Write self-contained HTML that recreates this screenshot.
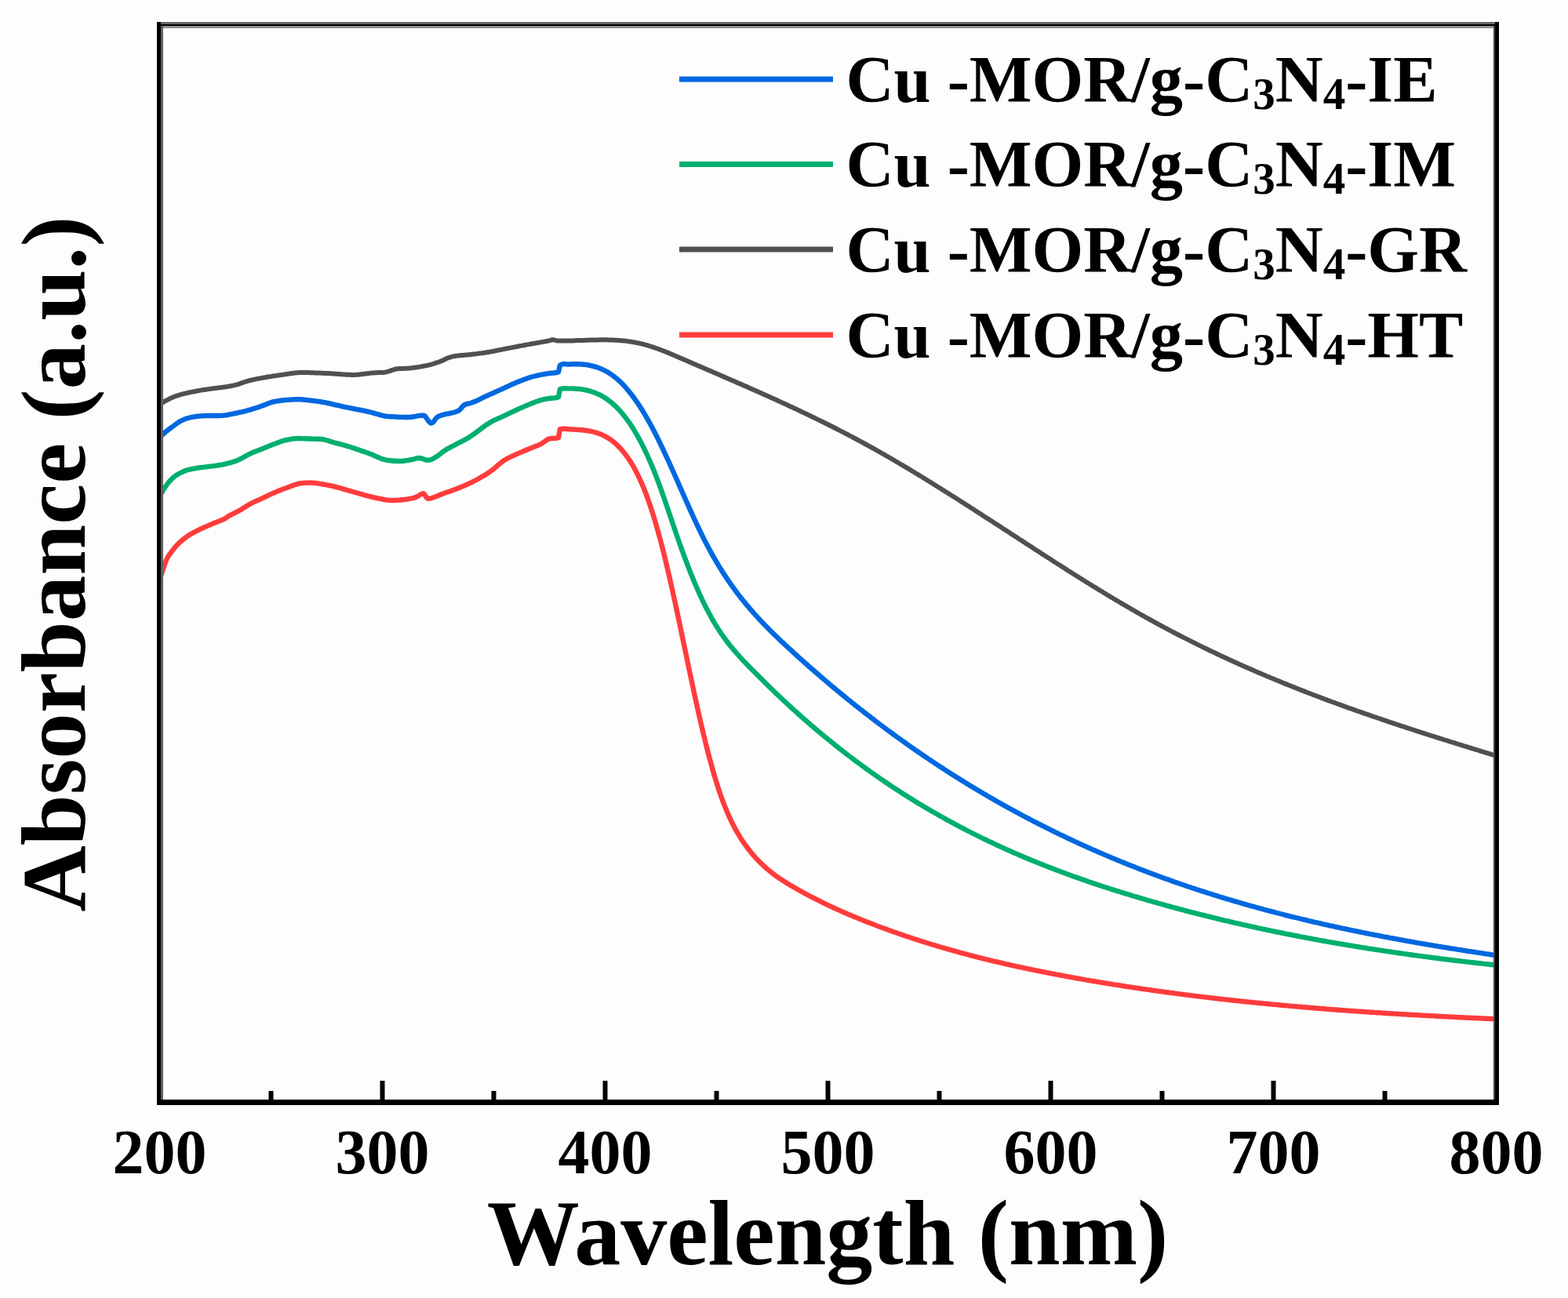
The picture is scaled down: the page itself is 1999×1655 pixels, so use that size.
<!DOCTYPE html>
<html><head><meta charset="utf-8"><title>Absorbance vs Wavelength</title>
<style>
html,body{margin:0;padding:0;background:#fdfdfd;}
body{width:1999px;height:1655px;overflow:hidden;}
svg{display:block;}
text{font-family:"Liberation Serif","Times New Roman",serif;font-weight:bold;fill:#000;}
.tl{font-size:80px;}
.ax{font-size:118px;}
.lg{font-size:84.5px;}
.sub{font-size:57px;}
</style></head><body>
<svg width="1999" height="1655" viewBox="0 0 1999 1655">
<rect x="0" y="0" width="1999" height="1655" fill="#fdfdfd"/>
<g fill="none" stroke-linejoin="round" stroke-linecap="butt" stroke-width="6.4">
<path d="M204.0 515.3 L206.0 514.1 L208.0 512.9 L210.0 511.7 L212.0 510.6 L214.0 509.6 L216.0 508.5 L218.0 507.6 L220.0 506.7 L222.0 505.8 L224.0 505.1 L226.0 504.4 L228.0 503.8 L230.0 503.2 L232.0 502.6 L234.0 502.1 L236.0 501.6 L238.0 501.2 L240.0 500.7 L242.0 500.3 L244.0 499.9 L246.0 499.5 L248.0 499.1 L250.0 498.7 L252.0 498.3 L254.0 498.0 L254.4 497.9 L256.0 497.6 L258.0 497.3 L260.0 497.0 L262.0 496.7 L264.0 496.4 L266.0 496.1 L268.0 495.8 L270.0 495.6 L272.0 495.3 L274.0 495.1 L276.0 494.8 L278.0 494.6 L280.0 494.3 L282.0 494.0 L284.0 493.8 L286.0 493.5 L288.0 493.2 L290.0 492.9 L292.0 492.5 L294.0 492.2 L296.0 491.8 L297.9 491.4 L298.0 491.4 L300.0 490.9 L302.0 490.4 L304.0 489.8 L306.0 489.1 L308.0 488.4 L310.0 487.7 L312.0 487.0 L314.0 486.4 L316.0 485.8 L318.0 485.2 L319.6 484.8 L320.0 484.7 L322.0 484.3 L324.0 483.8 L326.0 483.4 L328.0 483.0 L330.0 482.6 L332.0 482.2 L334.0 481.9 L336.0 481.5 L338.0 481.2 L340.0 480.8 L342.0 480.5 L344.0 480.2 L346.0 479.9 L348.0 479.5 L350.0 479.2 L352.0 479.0 L354.0 478.7 L356.0 478.4 L356.6 478.3 L358.0 478.1 L360.0 477.8 L362.0 477.5 L364.0 477.2 L366.0 476.9 L368.0 476.6 L370.0 476.3 L372.0 476.0 L374.0 475.7 L376.0 475.5 L378.0 475.3 L380.0 475.2 L382.0 475.1 L384.0 475.0 L384.9 475.0 L386.0 475.0 L388.0 475.0 L390.0 475.0 L392.0 475.1 L394.0 475.1 L396.0 475.2 L398.0 475.2 L400.0 475.3 L402.0 475.4 L404.0 475.4 L406.0 475.5 L408.0 475.6 L410.0 475.7 L412.0 475.8 L414.0 475.9 L416.0 475.9 L417.5 476.0 L418.0 476.0 L420.0 476.1 L422.0 476.2 L424.0 476.4 L426.0 476.5 L428.0 476.7 L430.0 476.8 L432.0 477.0 L434.0 477.1 L436.0 477.3 L438.0 477.4 L440.0 477.5 L442.0 477.7 L444.0 477.8 L446.0 477.8 L448.0 477.9 L450.0 477.9 L450.2 477.9 L452.0 477.9 L454.0 477.8 L456.0 477.7 L458.0 477.5 L460.0 477.3 L462.0 477.1 L464.0 476.8 L466.0 476.6 L468.0 476.3 L470.0 476.1 L472.0 475.8 L474.0 475.6 L476.0 475.4 L478.0 475.3 L480.0 475.2 L482.0 475.1 L484.0 475.1 L486.0 475.1 L488.0 475.0 L488.1 475.0 L490.0 474.8 L492.0 474.4 L494.0 473.9 L496.0 473.3 L498.0 472.6 L500.0 471.9 L502.0 471.3 L504.0 470.7 L506.0 470.3 L507.3 470.2 L508.0 470.1 L510.0 470.0 L512.0 469.9 L514.0 469.9 L516.0 469.8 L518.0 469.7 L520.0 469.6 L522.0 469.4 L524.0 469.3 L526.0 469.0 L528.0 468.8 L530.0 468.5 L532.0 468.2 L534.0 467.9 L536.0 467.5 L538.0 467.2 L540.0 466.8 L542.0 466.4 L544.0 466.0 L546.0 465.6 L548.0 465.1 L550.0 464.6 L552.0 464.0 L554.0 463.4 L556.0 462.7 L558.0 462.0 L560.0 461.3 L562.0 460.6 L564.0 459.7 L566.0 458.7 L568.0 457.7 L570.0 456.8 L571.0 456.4 L572.0 456.1 L574.0 455.4 L576.0 454.9 L578.0 454.4 L580.0 454.0 L582.0 453.7 L584.0 453.5 L586.0 453.2 L588.0 453.0 L590.0 452.9 L592.0 452.7 L594.0 452.5 L596.0 452.4 L598.0 452.2 L600.0 452.0 L602.0 451.8 L604.0 451.6 L606.0 451.4 L608.0 451.1 L610.0 450.8 L612.0 450.5 L614.0 450.3 L616.0 450.0 L618.0 449.7 L620.0 449.3 L622.0 449.0 L624.0 448.7 L626.0 448.3 L628.0 448.0 L630.0 447.6 L632.0 447.2 L634.0 446.8 L636.0 446.4 L638.0 446.0 L640.0 445.6 L642.0 445.2 L644.0 444.8 L646.0 444.4 L648.0 444.0 L650.0 443.6 L652.0 443.3 L654.0 442.9 L656.0 442.5 L658.0 442.1 L660.0 441.7 L662.0 441.3 L664.0 440.9 L666.0 440.6 L668.0 440.2 L670.0 439.8 L672.0 439.4 L674.0 439.1 L676.0 438.7 L678.0 438.3 L679.4 438.1 L680.0 438.0 L682.0 437.7 L684.0 437.3 L686.0 437.0 L688.0 436.6 L690.0 436.3 L692.0 435.9 L694.0 435.6 L696.0 435.2 L698.0 434.8 L700.0 434.3 L702.0 433.7 L704.0 433.3 L705.0 433.2 L706.0 433.3 L708.0 433.9 L710.0 434.5 L711.0 434.6 L712.0 434.6 L714.0 434.6 L716.0 434.6 L718.0 434.6 L720.0 434.6 L722.0 434.6 L724.0 434.6 L726.0 434.5 L728.0 434.5 L730.0 434.4 L732.0 434.3 L734.0 434.2 L736.0 434.1 L738.0 434.1 L740.0 434.0 L742.0 433.9 L744.0 433.9 L746.0 433.8 L748.0 433.7 L750.0 433.7 L752.0 433.6 L754.0 433.5 L756.0 433.5 L758.0 433.4 L760.0 433.4 L762.0 433.4 L764.0 433.3 L766.0 433.3 L768.0 433.3 L770.0 433.3 L772.0 433.3 L774.0 433.3 L776.0 433.4 L778.0 433.4 L780.0 433.5 L782.0 433.6 L784.0 433.7 L786.0 433.8 L788.0 433.9 L790.0 434.1 L792.0 434.2 L794.0 434.4 L796.0 434.6 L798.0 434.8 L800.0 435.1 L802.0 435.4 L804.0 435.6 L806.0 436.0 L808.0 436.3 L810.0 436.7 L812.0 437.1 L814.0 437.5 L816.0 437.9 L818.0 438.4 L820.0 438.9 L822.0 439.4 L824.0 440.0 L826.0 440.5 L828.0 441.1 L830.0 441.8 L832.0 442.4 L834.0 443.1 L836.0 443.8 L838.0 444.5 L840.0 445.2 L842.0 446.0 L844.0 446.8 L846.0 447.5 L848.0 448.3 L850.0 449.1 L852.0 449.9 L854.0 450.8 L856.0 451.6 L858.0 452.5 L860.0 453.3 L862.0 454.2 L864.0 455.0 L866.0 455.9 L868.0 456.8 L870.0 457.6 L872.0 458.5 L874.0 459.3 L876.0 460.2 L878.0 461.1 L880.0 461.9 L882.0 462.8 L884.0 463.7 L886.0 464.5 L888.0 465.4 L890.0 466.3 L892.0 467.1 L894.0 468.0 L896.0 468.8 L898.0 469.7 L900.0 470.6 L902.0 471.4 L904.0 472.3 L906.0 473.1 L908.0 474.0 L910.0 474.9 L912.0 475.7 L914.0 476.6 L916.0 477.5 L918.0 478.3 L920.0 479.2 L922.0 480.1 L924.0 480.9 L926.0 481.8 L928.0 482.7 L930.0 483.5 L932.0 484.4 L934.0 485.3 L936.0 486.1 L938.0 487.0 L940.0 487.9 L942.0 488.8 L944.0 489.6 L946.0 490.5 L948.0 491.4 L950.0 492.3 L952.0 493.1 L954.0 494.0 L956.0 494.9 L958.0 495.8 L960.0 496.7 L962.0 497.6 L964.0 498.4 L966.0 499.3 L968.0 500.2 L970.0 501.1 L972.0 502.0 L974.0 502.9 L976.0 503.8 L978.0 504.7 L980.0 505.6 L982.0 506.5 L984.0 507.4 L986.0 508.3 L988.0 509.2 L990.0 510.1 L992.0 511.0 L994.0 511.9 L996.0 512.9 L998.0 513.8 L1000.0 514.7 L1002.0 515.6 L1004.0 516.5 L1006.0 517.5 L1008.0 518.4 L1010.0 519.3 L1012.0 520.3 L1014.0 521.2 L1016.0 522.1 L1018.0 523.1 L1020.0 524.0 L1022.0 525.0 L1024.0 525.9 L1026.0 526.9 L1028.0 527.8 L1030.0 528.8 L1032.0 529.7 L1034.0 530.7 L1036.0 531.7 L1038.0 532.6 L1040.0 533.6 L1042.0 534.6 L1044.0 535.6 L1046.0 536.5 L1048.0 537.5 L1050.0 538.5 L1052.0 539.5 L1054.0 540.5 L1056.0 541.5 L1058.0 542.5 L1060.0 543.5 L1062.0 544.5 L1064.0 545.5 L1066.0 546.5 L1068.0 547.6 L1070.0 548.6 L1072.0 549.6 L1074.0 550.6 L1076.0 551.7 L1078.0 552.7 L1080.0 553.8 L1082.0 554.8 L1084.0 555.9 L1086.0 556.9 L1088.0 558.0 L1090.0 559.0 L1092.0 560.1 L1094.0 561.2 L1096.0 562.2 L1098.0 563.3 L1100.0 564.4 L1102.0 565.5 L1104.0 566.6 L1106.0 567.7 L1108.0 568.8 L1110.0 569.9 L1112.0 571.0 L1114.0 572.1 L1116.0 573.2 L1118.0 574.4 L1120.0 575.5 L1122.0 576.6 L1124.0 577.8 L1126.0 578.9 L1128.0 580.0 L1130.0 581.2 L1132.0 582.3 L1134.0 583.5 L1136.0 584.7 L1138.0 585.8 L1140.0 587.0 L1142.0 588.2 L1144.0 589.3 L1146.0 590.5 L1148.0 591.7 L1150.0 592.9 L1152.0 594.0 L1154.0 595.2 L1156.0 596.4 L1158.0 597.6 L1160.0 598.8 L1162.0 600.0 L1164.0 601.2 L1166.0 602.4 L1168.0 603.7 L1170.0 604.9 L1172.0 606.1 L1174.0 607.3 L1176.0 608.5 L1178.0 609.8 L1180.0 611.0 L1182.0 612.2 L1184.0 613.5 L1186.0 614.7 L1188.0 615.9 L1190.0 617.2 L1192.0 618.4 L1194.0 619.7 L1196.0 620.9 L1198.0 622.2 L1200.0 623.4 L1202.0 624.7 L1204.0 625.9 L1206.0 627.2 L1208.0 628.4 L1210.0 629.7 L1212.0 631.0 L1214.0 632.2 L1216.0 633.5 L1218.0 634.8 L1220.0 636.0 L1222.0 637.3 L1224.0 638.6 L1226.0 639.9 L1228.0 641.1 L1230.0 642.4 L1232.0 643.7 L1234.0 645.0 L1236.0 646.3 L1238.0 647.6 L1240.0 648.8 L1242.0 650.1 L1244.0 651.4 L1246.0 652.7 L1248.0 654.0 L1250.0 655.3 L1252.0 656.6 L1254.0 657.9 L1256.0 659.2 L1258.0 660.5 L1260.0 661.8 L1262.0 663.1 L1264.0 664.3 L1266.0 665.6 L1268.0 666.9 L1270.0 668.2 L1272.0 669.5 L1274.0 670.8 L1276.0 672.1 L1278.0 673.4 L1280.0 674.7 L1282.0 676.0 L1284.0 677.3 L1286.0 678.6 L1288.0 679.9 L1290.0 681.2 L1292.0 682.5 L1294.0 683.8 L1296.0 685.1 L1298.0 686.4 L1300.0 687.7 L1302.0 689.0 L1304.0 690.3 L1306.0 691.6 L1308.0 692.9 L1310.0 694.2 L1312.0 695.5 L1314.0 696.8 L1316.0 698.1 L1318.0 699.4 L1320.0 700.7 L1322.0 702.0 L1324.0 703.3 L1326.0 704.6 L1328.0 705.9 L1330.0 707.2 L1332.0 708.5 L1334.0 709.8 L1336.0 711.0 L1338.0 712.3 L1340.0 713.6 L1342.0 714.9 L1344.0 716.2 L1346.0 717.5 L1348.0 718.7 L1350.0 720.0 L1352.0 721.3 L1354.0 722.6 L1356.0 723.8 L1358.0 725.1 L1360.0 726.4 L1362.0 727.7 L1364.0 728.9 L1366.0 730.2 L1368.0 731.5 L1370.0 732.7 L1372.0 734.0 L1374.0 735.2 L1376.0 736.5 L1378.0 737.7 L1380.0 739.0 L1382.0 740.2 L1384.0 741.5 L1386.0 742.7 L1388.0 744.0 L1390.0 745.2 L1392.0 746.4 L1394.0 747.7 L1396.0 748.9 L1398.0 750.1 L1400.0 751.4 L1402.0 752.6 L1404.0 753.8 L1406.0 755.0 L1408.0 756.2 L1410.0 757.4 L1412.0 758.7 L1414.0 759.9 L1416.0 761.1 L1418.0 762.3 L1420.0 763.5 L1422.0 764.7 L1424.0 765.8 L1426.0 767.0 L1428.0 768.2 L1430.0 769.4 L1432.0 770.6 L1434.0 771.7 L1436.0 772.9 L1438.0 774.1 L1440.0 775.2 L1442.0 776.4 L1444.0 777.6 L1446.0 778.7 L1448.0 779.9 L1450.0 781.0 L1452.0 782.1 L1454.0 783.3 L1456.0 784.4 L1458.0 785.5 L1460.0 786.7 L1462.0 787.8 L1464.0 788.9 L1466.0 790.0 L1468.0 791.1 L1470.0 792.2 L1472.0 793.3 L1474.0 794.4 L1476.0 795.5 L1478.0 796.6 L1480.0 797.7 L1482.0 798.7 L1484.0 799.8 L1486.0 800.9 L1488.0 801.9 L1490.0 803.0 L1492.0 804.1 L1494.0 805.1 L1496.0 806.2 L1498.0 807.2 L1500.0 808.3 L1502.0 809.3 L1504.0 810.3 L1506.0 811.4 L1508.0 812.4 L1510.0 813.4 L1512.0 814.4 L1514.0 815.4 L1516.0 816.4 L1518.0 817.4 L1520.0 818.4 L1522.0 819.4 L1524.0 820.4 L1526.0 821.4 L1528.0 822.4 L1530.0 823.4 L1532.0 824.4 L1534.0 825.4 L1536.0 826.3 L1538.0 827.3 L1540.0 828.3 L1542.0 829.2 L1544.0 830.2 L1546.0 831.1 L1548.0 832.1 L1550.0 833.0 L1552.0 834.0 L1554.0 834.9 L1556.0 835.9 L1558.0 836.8 L1560.0 837.7 L1562.0 838.7 L1564.0 839.6 L1566.0 840.5 L1568.0 841.4 L1570.0 842.3 L1572.0 843.3 L1574.0 844.2 L1576.0 845.1 L1578.0 846.0 L1580.0 846.9 L1582.0 847.8 L1584.0 848.7 L1586.0 849.5 L1588.0 850.4 L1590.0 851.3 L1592.0 852.2 L1594.0 853.1 L1596.0 853.9 L1598.0 854.8 L1600.0 855.7 L1602.0 856.5 L1604.0 857.4 L1606.0 858.3 L1608.0 859.1 L1610.0 860.0 L1612.0 860.8 L1614.0 861.7 L1616.0 862.5 L1618.0 863.3 L1620.0 864.2 L1622.0 865.0 L1624.0 865.8 L1626.0 866.7 L1628.0 867.5 L1630.0 868.3 L1632.0 869.1 L1634.0 870.0 L1636.0 870.8 L1638.0 871.6 L1640.0 872.4 L1642.0 873.2 L1644.0 874.0 L1646.0 874.8 L1648.0 875.6 L1650.0 876.4 L1652.0 877.2 L1654.0 878.0 L1656.0 878.8 L1658.0 879.6 L1660.0 880.3 L1662.0 881.1 L1664.0 881.9 L1666.0 882.7 L1668.0 883.5 L1670.0 884.2 L1672.0 885.0 L1674.0 885.8 L1676.0 886.5 L1678.0 887.3 L1680.0 888.0 L1682.0 888.8 L1684.0 889.6 L1686.0 890.3 L1688.0 891.1 L1690.0 891.8 L1692.0 892.6 L1694.0 893.3 L1696.0 894.0 L1698.0 894.8 L1700.0 895.5 L1702.0 896.2 L1704.0 897.0 L1706.0 897.7 L1708.0 898.4 L1710.0 899.2 L1712.0 899.9 L1714.0 900.6 L1716.0 901.3 L1718.0 902.1 L1720.0 902.8 L1722.0 903.5 L1724.0 904.2 L1726.0 904.9 L1728.0 905.6 L1730.0 906.3 L1732.0 907.0 L1734.0 907.7 L1736.0 908.4 L1738.0 909.1 L1740.0 909.8 L1742.0 910.5 L1744.0 911.2 L1746.0 911.9 L1748.0 912.6 L1750.0 913.3 L1752.0 914.0 L1754.0 914.7 L1756.0 915.4 L1758.0 916.0 L1760.0 916.7 L1762.0 917.4 L1764.0 918.1 L1766.0 918.7 L1768.0 919.4 L1770.0 920.1 L1772.0 920.8 L1774.0 921.4 L1776.0 922.1 L1778.0 922.8 L1780.0 923.4 L1782.0 924.1 L1784.0 924.8 L1786.0 925.4 L1788.0 926.1 L1790.0 926.7 L1792.0 927.4 L1794.0 928.1 L1796.0 928.7 L1798.0 929.4 L1800.0 930.0 L1802.0 930.7 L1804.0 931.3 L1806.0 932.0 L1808.0 932.6 L1810.0 933.3 L1812.0 933.9 L1814.0 934.6 L1816.0 935.2 L1818.0 935.8 L1820.0 936.5 L1822.0 937.1 L1824.0 937.8 L1826.0 938.4 L1828.0 939.0 L1830.0 939.7 L1832.0 940.3 L1834.0 940.9 L1836.0 941.6 L1838.0 942.2 L1840.0 942.8 L1842.0 943.5 L1844.0 944.1 L1846.0 944.7 L1848.0 945.3 L1850.0 946.0 L1852.0 946.6 L1854.0 947.2 L1856.0 947.9 L1858.0 948.5 L1860.0 949.1 L1862.0 949.7 L1864.0 950.3 L1866.0 951.0 L1868.0 951.6 L1870.0 952.2 L1872.0 952.8 L1874.0 953.4 L1876.0 954.1 L1878.0 954.7 L1880.0 955.3 L1882.0 955.9 L1884.0 956.5 L1886.0 957.1 L1888.0 957.8 L1890.0 958.4 L1892.0 959.0 L1894.0 959.6 L1896.0 960.2 L1898.0 960.8 L1900.0 961.4 L1902.0 962.1 L1904.0 962.7 L1906.0 963.3" stroke="#505050" stroke-width="6"/>
<path d="M204.0 557.5 L206.0 555.5 L208.0 553.6 L210.0 551.7 L212.0 550.0 L214.0 548.4 L216.0 546.9 L218.0 545.4 L220.0 544.0 L222.0 542.5 L224.0 541.0 L226.0 539.5 L228.0 538.1 L230.0 537.0 L232.0 536.0 L234.0 535.1 L236.0 534.3 L238.0 533.6 L240.0 533.0 L242.0 532.5 L244.0 532.0 L246.0 531.6 L248.0 531.3 L250.0 531.0 L252.0 530.8 L254.0 530.6 L256.0 530.4 L258.0 530.3 L260.0 530.1 L262.0 530.1 L264.0 530.0 L265.0 530.0 L266.0 530.0 L268.0 530.0 L270.0 530.0 L272.0 530.0 L274.0 530.0 L276.0 530.0 L278.0 530.0 L280.0 530.0 L282.0 529.9 L284.0 529.8 L286.0 529.6 L288.0 529.3 L290.0 529.0 L292.0 528.6 L294.0 528.2 L296.0 527.8 L298.0 527.4 L300.0 527.0 L302.0 526.6 L304.0 526.2 L306.0 525.7 L308.0 525.3 L310.0 524.8 L312.0 524.3 L314.0 523.8 L315.0 523.5 L316.0 523.2 L318.0 522.7 L320.0 522.1 L322.0 521.5 L324.0 520.9 L326.0 520.3 L328.0 519.6 L330.0 519.0 L332.0 518.3 L334.0 517.6 L336.0 516.8 L338.0 516.0 L340.0 515.2 L342.0 514.4 L344.0 513.7 L346.0 513.0 L348.0 512.4 L350.0 512.0 L352.0 511.6 L354.0 511.3 L356.0 511.0 L358.0 510.7 L360.0 510.5 L362.0 510.3 L364.0 510.1 L365.0 510.0 L366.0 509.9 L368.0 509.8 L370.0 509.6 L372.0 509.5 L374.0 509.4 L376.0 509.3 L378.0 509.2 L380.0 509.2 L382.0 509.2 L384.0 509.3 L386.0 509.5 L388.0 509.7 L390.0 509.9 L392.0 510.2 L394.0 510.4 L395.0 510.5 L396.0 510.6 L398.0 510.8 L400.0 511.1 L402.0 511.3 L404.0 511.6 L406.0 511.9 L408.0 512.2 L410.0 512.5 L412.0 512.8 L414.0 513.2 L416.0 513.6 L418.0 514.0 L420.0 514.4 L422.0 514.9 L424.0 515.3 L426.0 515.8 L428.0 516.3 L430.0 516.7 L432.0 517.2 L434.0 517.7 L436.0 518.1 L438.0 518.6 L440.0 519.0 L442.0 519.4 L444.0 519.8 L446.0 520.2 L448.0 520.6 L450.0 521.0 L452.0 521.4 L454.0 521.8 L456.0 522.2 L458.0 522.5 L460.0 522.9 L462.0 523.3 L464.0 523.7 L466.0 524.1 L468.0 524.6 L470.0 525.0 L472.0 525.5 L474.0 526.0 L476.0 526.6 L478.0 527.1 L480.0 527.7 L482.0 528.3 L484.0 528.9 L486.0 529.4 L488.0 529.9 L490.0 530.3 L492.0 530.7 L494.0 530.9 L495.0 531.0 L496.0 531.1 L498.0 531.2 L500.0 531.3 L502.0 531.4 L504.0 531.5 L506.0 531.6 L508.0 531.7 L510.0 531.8 L512.0 531.9 L514.0 531.9 L516.0 532.0 L518.0 532.0 L520.0 532.0 L522.0 531.9 L524.0 531.7 L526.0 531.5 L528.0 531.1 L530.0 530.8 L532.0 530.4 L534.0 530.1 L536.0 529.8 L538.0 529.7 L539.8 529.6 L540.0 529.6 L542.0 530.8 L544.0 533.4 L546.0 536.4 L548.0 538.7 L549.8 539.6 L550.0 539.6 L552.0 538.4 L554.0 535.9 L556.0 533.2 L558.0 531.4 L560.0 530.5 L562.0 529.7 L564.0 529.1 L566.0 528.5 L568.0 528.1 L570.0 527.7 L572.0 527.3 L574.0 526.9 L576.0 526.5 L578.0 526.0 L580.0 525.4 L582.0 524.7 L584.0 523.8 L585.1 523.3 L586.0 522.7 L588.0 520.5 L590.0 518.0 L592.0 516.2 L592.4 516.0 L594.0 515.4 L596.0 514.9 L598.0 514.5 L600.0 514.0 L602.0 513.3 L604.0 512.5 L606.0 511.7 L608.0 510.8 L610.0 509.8 L612.0 508.9 L614.0 507.9 L616.0 506.9 L618.0 505.9 L620.0 505.0 L622.0 504.1 L624.0 503.2 L626.0 502.3 L628.0 501.4 L630.0 500.5 L632.0 499.6 L634.0 498.7 L636.0 497.8 L638.0 496.9 L640.0 496.0 L642.0 495.1 L644.0 494.2 L646.0 493.2 L648.0 492.3 L650.0 491.4 L652.0 490.4 L654.0 489.5 L656.0 488.7 L658.0 487.8 L660.0 487.0 L662.0 486.2 L664.0 485.4 L666.0 484.7 L668.0 483.9 L670.0 483.2 L672.0 482.4 L674.0 481.8 L676.0 481.1 L678.0 480.5 L680.0 480.0 L682.0 479.5 L684.0 479.0 L686.0 478.6 L688.0 478.2 L690.0 477.7 L692.0 477.4 L694.0 477.0 L696.0 476.6 L698.0 476.3 L700.0 476.0 L702.0 475.8 L704.0 475.6 L706.0 475.5 L708.0 475.3 L710.0 475.0 L711.8 474.5 L712.0 474.2 L713.9 465.7 L714.0 465.6 L716.0 464.7 L718.0 464.0 L720.0 464.1 L722.0 464.4 L722.6 464.4 L724.0 464.6 L726.0 464.5 L728.0 464.4 L730.0 464.3 L732.0 464.3 L734.0 464.3 L736.0 464.3 L738.0 464.3 L740.0 464.4 L742.0 464.5 L744.0 464.7 L746.0 464.9 L748.0 465.2 L750.0 465.5 L752.0 465.9 L754.0 466.3 L756.0 466.8 L758.0 467.3 L760.0 467.9 L762.0 468.6 L764.0 469.4 L766.0 470.2 L768.0 471.0 L770.0 472.0 L772.0 473.0 L774.0 474.1 L776.0 475.3 L778.0 476.6 L780.0 478.0 L782.0 479.4 L784.0 481.0 L786.0 482.6 L788.0 484.3 L790.0 486.1 L792.0 488.1 L794.0 490.1 L796.0 492.2 L798.0 494.5 L800.0 496.8 L802.0 499.2 L804.0 501.7 L806.0 504.3 L808.0 507.0 L810.0 509.8 L812.0 512.6 L814.0 515.6 L816.0 518.7 L818.0 521.8 L820.0 525.0 L822.0 528.4 L824.0 531.8 L826.0 535.3 L828.0 538.8 L830.0 542.5 L832.0 546.2 L834.0 550.0 L836.0 553.9 L838.0 557.9 L840.0 562.0 L842.0 566.1 L844.0 570.3 L846.0 574.5 L848.0 578.8 L850.0 583.1 L852.0 587.5 L854.0 591.9 L856.0 596.3 L858.0 600.8 L860.0 605.3 L862.0 609.8 L864.0 614.3 L866.0 618.9 L868.0 623.4 L870.0 627.9 L872.0 632.4 L874.0 637.0 L876.0 641.4 L878.0 645.9 L880.0 650.4 L882.0 654.8 L884.0 659.2 L886.0 663.5 L888.0 667.8 L890.0 672.0 L892.0 676.2 L894.0 680.3 L896.0 684.4 L898.0 688.4 L900.0 692.3 L902.0 696.1 L904.0 699.8 L906.0 703.5 L908.0 707.1 L910.0 710.7 L912.0 714.1 L914.0 717.5 L916.0 720.9 L918.0 724.1 L920.0 727.3 L922.0 730.5 L924.0 733.6 L926.0 736.6 L928.0 739.6 L930.0 742.5 L932.0 745.3 L934.0 748.2 L936.0 750.9 L938.0 753.6 L940.0 756.3 L942.0 758.9 L944.0 761.5 L946.0 764.0 L948.0 766.5 L950.0 768.9 L952.0 771.4 L954.0 773.7 L956.0 776.1 L958.0 778.4 L960.0 780.7 L962.0 782.9 L964.0 785.1 L966.0 787.3 L968.0 789.5 L970.0 791.6 L972.0 793.8 L974.0 795.8 L976.0 797.9 L978.0 800.0 L980.0 802.0 L982.0 804.0 L984.0 806.0 L986.0 808.0 L988.0 809.9 L990.0 811.8 L992.0 813.8 L994.0 815.7 L996.0 817.6 L998.0 819.4 L1000.0 821.3 L1002.0 823.2 L1004.0 825.0 L1006.0 826.9 L1008.0 828.7 L1010.0 830.5 L1012.0 832.4 L1014.0 834.2 L1016.0 836.0 L1018.0 837.8 L1020.0 839.6 L1022.0 841.4 L1024.0 843.2 L1026.0 845.0 L1028.0 846.7 L1030.0 848.5 L1032.0 850.3 L1034.0 852.0 L1036.0 853.8 L1038.0 855.5 L1040.0 857.3 L1042.0 859.0 L1044.0 860.7 L1046.0 862.5 L1048.0 864.2 L1050.0 865.9 L1052.0 867.6 L1054.0 869.3 L1056.0 871.0 L1058.0 872.7 L1060.0 874.4 L1062.0 876.0 L1064.0 877.7 L1066.0 879.4 L1068.0 881.0 L1070.0 882.7 L1072.0 884.3 L1074.0 886.0 L1076.0 887.6 L1078.0 889.2 L1080.0 890.9 L1082.0 892.5 L1084.0 894.1 L1086.0 895.7 L1088.0 897.3 L1090.0 898.9 L1092.0 900.5 L1094.0 902.1 L1096.0 903.7 L1098.0 905.2 L1100.0 906.8 L1102.0 908.4 L1104.0 909.9 L1106.0 911.5 L1108.0 913.0 L1110.0 914.6 L1112.0 916.1 L1114.0 917.6 L1116.0 919.2 L1118.0 920.7 L1120.0 922.2 L1122.0 923.7 L1124.0 925.2 L1126.0 926.7 L1128.0 928.2 L1130.0 929.7 L1132.0 931.2 L1134.0 932.7 L1136.0 934.1 L1138.0 935.6 L1140.0 937.1 L1142.0 938.5 L1144.0 940.0 L1146.0 941.4 L1148.0 942.8 L1150.0 944.3 L1152.0 945.7 L1154.0 947.1 L1156.0 948.6 L1158.0 950.0 L1160.0 951.4 L1162.0 952.8 L1164.0 954.2 L1166.0 955.6 L1168.0 957.0 L1170.0 958.3 L1172.0 959.7 L1174.0 961.1 L1176.0 962.5 L1178.0 963.8 L1180.0 965.2 L1182.0 966.5 L1184.0 967.9 L1186.0 969.2 L1188.0 970.6 L1190.0 971.9 L1192.0 973.2 L1194.0 974.5 L1196.0 975.9 L1198.0 977.2 L1200.0 978.5 L1202.0 979.8 L1204.0 981.1 L1206.0 982.4 L1208.0 983.7 L1210.0 984.9 L1212.0 986.2 L1214.0 987.5 L1216.0 988.8 L1218.0 990.0 L1220.0 991.3 L1222.0 992.5 L1224.0 993.8 L1226.0 995.0 L1228.0 996.3 L1230.0 997.5 L1232.0 998.7 L1234.0 1000.0 L1236.0 1001.2 L1238.0 1002.4 L1240.0 1003.6 L1242.0 1004.8 L1244.0 1006.0 L1246.0 1007.2 L1248.0 1008.4 L1250.0 1009.6 L1252.0 1010.8 L1254.0 1012.0 L1256.0 1013.1 L1258.0 1014.3 L1260.0 1015.5 L1262.0 1016.6 L1264.0 1017.8 L1266.0 1018.9 L1268.0 1020.1 L1270.0 1021.2 L1272.0 1022.4 L1274.0 1023.5 L1276.0 1024.6 L1278.0 1025.7 L1280.0 1026.9 L1282.0 1028.0 L1284.0 1029.1 L1286.0 1030.2 L1288.0 1031.3 L1290.0 1032.4 L1292.0 1033.5 L1294.0 1034.6 L1296.0 1035.7 L1298.0 1036.7 L1300.0 1037.8 L1302.0 1038.9 L1304.0 1040.0 L1306.0 1041.0 L1308.0 1042.1 L1310.0 1043.1 L1312.0 1044.2 L1314.0 1045.2 L1316.0 1046.3 L1318.0 1047.3 L1320.0 1048.3 L1322.0 1049.4 L1324.0 1050.4 L1326.0 1051.4 L1328.0 1052.4 L1330.0 1053.4 L1332.0 1054.4 L1334.0 1055.4 L1336.0 1056.4 L1338.0 1057.4 L1340.0 1058.4 L1342.0 1059.4 L1344.0 1060.4 L1346.0 1061.4 L1348.0 1062.3 L1350.0 1063.3 L1352.0 1064.3 L1354.0 1065.2 L1356.0 1066.2 L1358.0 1067.2 L1360.0 1068.1 L1362.0 1069.1 L1364.0 1070.0 L1366.0 1070.9 L1368.0 1071.9 L1370.0 1072.8 L1372.0 1073.7 L1374.0 1074.6 L1376.0 1075.6 L1378.0 1076.5 L1380.0 1077.4 L1382.0 1078.3 L1384.0 1079.2 L1386.0 1080.1 L1388.0 1081.0 L1390.0 1081.9 L1392.0 1082.8 L1394.0 1083.7 L1396.0 1084.5 L1398.0 1085.4 L1400.0 1086.3 L1402.0 1087.2 L1404.0 1088.0 L1406.0 1088.9 L1408.0 1089.7 L1410.0 1090.6 L1412.0 1091.4 L1414.0 1092.3 L1416.0 1093.1 L1418.0 1094.0 L1420.0 1094.8 L1422.0 1095.6 L1424.0 1096.5 L1426.0 1097.3 L1428.0 1098.1 L1430.0 1098.9 L1432.0 1099.7 L1434.0 1100.5 L1436.0 1101.4 L1438.0 1102.2 L1440.0 1103.0 L1442.0 1103.8 L1444.0 1104.5 L1446.0 1105.3 L1448.0 1106.1 L1450.0 1106.9 L1452.0 1107.7 L1454.0 1108.5 L1456.0 1109.2 L1458.0 1110.0 L1460.0 1110.8 L1462.0 1111.5 L1464.0 1112.3 L1466.0 1113.0 L1468.0 1113.8 L1470.0 1114.5 L1472.0 1115.3 L1474.0 1116.0 L1476.0 1116.8 L1478.0 1117.5 L1480.0 1118.2 L1482.0 1118.9 L1484.0 1119.7 L1486.0 1120.4 L1488.0 1121.1 L1490.0 1121.8 L1492.0 1122.5 L1494.0 1123.2 L1496.0 1124.0 L1498.0 1124.7 L1500.0 1125.4 L1502.0 1126.0 L1504.0 1126.7 L1506.0 1127.4 L1508.0 1128.1 L1510.0 1128.8 L1512.0 1129.5 L1514.0 1130.2 L1516.0 1130.8 L1518.0 1131.5 L1520.0 1132.2 L1522.0 1132.8 L1524.0 1133.5 L1526.0 1134.2 L1528.0 1134.8 L1530.0 1135.5 L1532.0 1136.1 L1534.0 1136.8 L1536.0 1137.4 L1538.0 1138.0 L1540.0 1138.7 L1542.0 1139.3 L1544.0 1139.9 L1546.0 1140.6 L1548.0 1141.2 L1550.0 1141.8 L1552.0 1142.4 L1554.0 1143.1 L1556.0 1143.7 L1558.0 1144.3 L1560.0 1144.9 L1562.0 1145.5 L1564.0 1146.1 L1566.0 1146.7 L1568.0 1147.3 L1570.0 1147.9 L1572.0 1148.5 L1574.0 1149.1 L1576.0 1149.7 L1578.0 1150.2 L1580.0 1150.8 L1582.0 1151.4 L1584.0 1152.0 L1586.0 1152.6 L1588.0 1153.1 L1590.0 1153.7 L1592.0 1154.3 L1594.0 1154.8 L1596.0 1155.4 L1598.0 1155.9 L1600.0 1156.5 L1602.0 1157.0 L1604.0 1157.6 L1606.0 1158.1 L1608.0 1158.7 L1610.0 1159.2 L1612.0 1159.8 L1614.0 1160.3 L1616.0 1160.8 L1618.0 1161.4 L1620.0 1161.9 L1622.0 1162.4 L1624.0 1162.9 L1626.0 1163.5 L1628.0 1164.0 L1630.0 1164.5 L1632.0 1165.0 L1634.0 1165.5 L1636.0 1166.0 L1638.0 1166.6 L1640.0 1167.1 L1642.0 1167.6 L1644.0 1168.1 L1646.0 1168.6 L1648.0 1169.1 L1650.0 1169.5 L1652.0 1170.0 L1654.0 1170.5 L1656.0 1171.0 L1658.0 1171.5 L1660.0 1172.0 L1662.0 1172.5 L1664.0 1172.9 L1666.0 1173.4 L1668.0 1173.9 L1670.0 1174.4 L1672.0 1174.8 L1674.0 1175.3 L1676.0 1175.8 L1678.0 1176.2 L1680.0 1176.7 L1682.0 1177.1 L1684.0 1177.6 L1686.0 1178.1 L1688.0 1178.5 L1690.0 1179.0 L1692.0 1179.4 L1694.0 1179.8 L1696.0 1180.3 L1698.0 1180.7 L1700.0 1181.2 L1702.0 1181.6 L1704.0 1182.0 L1706.0 1182.5 L1708.0 1182.9 L1710.0 1183.3 L1712.0 1183.8 L1714.0 1184.2 L1716.0 1184.6 L1718.0 1185.0 L1720.0 1185.5 L1722.0 1185.9 L1724.0 1186.3 L1726.0 1186.7 L1728.0 1187.1 L1730.0 1187.5 L1732.0 1187.9 L1734.0 1188.4 L1736.0 1188.8 L1738.0 1189.2 L1740.0 1189.6 L1742.0 1190.0 L1744.0 1190.4 L1746.0 1190.8 L1748.0 1191.2 L1750.0 1191.5 L1752.0 1191.9 L1754.0 1192.3 L1756.0 1192.7 L1758.0 1193.1 L1760.0 1193.5 L1762.0 1193.9 L1764.0 1194.3 L1766.0 1194.6 L1768.0 1195.0 L1770.0 1195.4 L1772.0 1195.8 L1774.0 1196.1 L1776.0 1196.5 L1778.0 1196.9 L1780.0 1197.2 L1782.0 1197.6 L1784.0 1198.0 L1786.0 1198.3 L1788.0 1198.7 L1790.0 1199.1 L1792.0 1199.4 L1794.0 1199.8 L1796.0 1200.1 L1798.0 1200.5 L1800.0 1200.9 L1802.0 1201.2 L1804.0 1201.6 L1806.0 1201.9 L1808.0 1202.3 L1810.0 1202.6 L1812.0 1203.0 L1814.0 1203.3 L1816.0 1203.6 L1818.0 1204.0 L1820.0 1204.3 L1822.0 1204.7 L1824.0 1205.0 L1826.0 1205.3 L1828.0 1205.7 L1830.0 1206.0 L1832.0 1206.3 L1834.0 1206.7 L1836.0 1207.0 L1838.0 1207.3 L1840.0 1207.7 L1842.0 1208.0 L1844.0 1208.3 L1846.0 1208.6 L1848.0 1209.0 L1850.0 1209.3 L1852.0 1209.6 L1854.0 1209.9 L1856.0 1210.2 L1858.0 1210.6 L1860.0 1210.9 L1862.0 1211.2 L1864.0 1211.5 L1866.0 1211.8 L1868.0 1212.1 L1870.0 1212.5 L1872.0 1212.8 L1874.0 1213.1 L1876.0 1213.4 L1878.0 1213.7 L1880.0 1214.0 L1882.0 1214.3 L1884.0 1214.6 L1886.0 1214.9 L1888.0 1215.2 L1890.0 1215.5 L1892.0 1215.8 L1894.0 1216.1 L1896.0 1216.4 L1898.0 1216.7 L1900.0 1217.0 L1902.0 1217.3 L1904.0 1217.6 L1906.0 1217.9" stroke="#0068e0"/>
<path d="M204.0 632.0 L206.0 628.5 L208.0 625.1 L210.0 622.0 L212.0 619.0 L214.0 616.2 L215.0 615.0 L216.0 613.8 L218.0 611.7 L220.0 609.7 L222.0 608.0 L224.0 606.5 L226.0 605.2 L228.0 604.0 L230.0 603.0 L232.0 602.0 L234.0 601.1 L236.0 600.3 L238.0 599.6 L240.0 599.0 L242.0 598.5 L244.0 598.1 L246.0 597.7 L248.0 597.3 L250.0 597.0 L252.0 596.7 L254.0 596.4 L256.0 596.1 L258.0 595.9 L260.0 595.6 L262.0 595.4 L264.0 595.1 L265.0 595.0 L266.0 594.9 L268.0 594.6 L270.0 594.4 L272.0 594.1 L274.0 593.9 L276.0 593.6 L278.0 593.3 L280.0 593.0 L282.0 592.6 L284.0 592.3 L286.0 591.8 L288.0 591.4 L290.0 590.9 L292.0 590.4 L294.0 589.8 L296.0 589.3 L298.0 588.6 L300.0 588.0 L302.0 587.3 L304.0 586.4 L306.0 585.4 L308.0 584.4 L310.0 583.3 L312.0 582.2 L314.0 581.0 L316.0 580.0 L318.0 578.9 L320.0 578.0 L322.0 577.1 L324.0 576.3 L326.0 575.5 L328.0 574.7 L330.0 574.0 L332.0 573.2 L334.0 572.4 L335.0 572.0 L336.0 571.6 L338.0 570.8 L340.0 570.0 L342.0 569.1 L344.0 568.3 L346.0 567.5 L348.0 566.7 L350.0 566.0 L352.0 565.3 L354.0 564.5 L356.0 563.7 L358.0 563.0 L360.0 562.3 L362.0 561.7 L364.0 561.2 L365.0 561.0 L366.0 560.8 L368.0 560.4 L370.0 560.1 L372.0 559.7 L374.0 559.4 L376.0 559.2 L378.0 559.1 L380.0 559.0 L382.0 559.0 L384.0 559.1 L386.0 559.1 L388.0 559.2 L390.0 559.3 L392.0 559.4 L394.0 559.5 L395.0 559.5 L396.0 559.5 L398.0 559.6 L400.0 559.6 L402.0 559.7 L404.0 559.7 L406.0 559.8 L408.0 559.9 L410.0 560.0 L412.0 560.2 L414.0 560.6 L416.0 561.2 L418.0 561.8 L420.0 562.4 L422.0 563.1 L424.0 563.7 L425.0 564.0 L426.0 564.3 L428.0 564.8 L430.0 565.3 L432.0 565.8 L434.0 566.3 L436.0 566.9 L438.0 567.4 L440.0 568.0 L442.0 568.6 L444.0 569.2 L446.0 569.8 L448.0 570.5 L450.0 571.1 L452.0 571.8 L454.0 572.5 L456.0 573.1 L458.0 573.8 L460.0 574.5 L462.0 575.2 L464.0 575.9 L466.0 576.6 L468.0 577.3 L470.0 578.0 L472.0 578.7 L474.0 579.5 L476.0 580.4 L478.0 581.3 L480.0 582.2 L482.0 583.0 L484.0 583.9 L486.0 584.7 L488.0 585.4 L490.0 586.0 L492.0 586.5 L494.0 586.9 L495.0 587.0 L496.0 587.1 L498.0 587.3 L500.0 587.5 L502.0 587.7 L504.0 587.8 L506.0 587.9 L508.0 588.0 L510.0 588.0 L512.0 587.9 L514.0 587.8 L516.0 587.5 L518.0 587.2 L520.0 586.9 L522.0 586.5 L524.0 586.2 L525.0 586.0 L526.0 585.8 L528.0 585.3 L530.0 584.7 L532.0 584.2 L534.0 584.0 L534.4 584.0 L536.0 584.2 L538.0 584.7 L540.0 585.4 L542.0 586.1 L544.0 586.6 L545.3 586.7 L546.0 586.7 L548.0 586.4 L550.0 585.8 L552.0 584.9 L554.0 583.8 L556.0 582.6 L558.0 581.2 L560.0 579.7 L562.0 578.2 L564.0 576.6 L566.0 575.2 L568.0 573.8 L570.0 572.5 L570.6 572.2 L572.0 571.4 L574.0 570.4 L576.0 569.3 L578.0 568.3 L580.0 567.3 L582.0 566.2 L584.0 565.2 L586.0 564.2 L588.0 563.2 L590.0 562.1 L592.0 561.0 L594.0 559.9 L596.0 558.8 L597.8 557.7 L598.0 557.6 L600.0 556.3 L602.0 555.0 L604.0 553.6 L606.0 552.1 L608.0 550.6 L610.0 549.1 L612.0 547.6 L614.0 546.1 L616.0 544.6 L618.0 543.1 L620.0 541.7 L622.0 540.4 L624.0 539.2 L626.0 538.0 L628.0 536.9 L630.0 535.9 L632.0 535.0 L634.0 534.0 L636.0 533.2 L638.0 532.3 L640.0 531.4 L642.0 530.5 L643.0 530.0 L644.0 529.5 L646.0 528.6 L648.0 527.6 L650.0 526.7 L652.0 525.7 L654.0 524.8 L656.0 523.8 L658.0 522.9 L660.0 522.0 L662.0 521.1 L664.0 520.2 L666.0 519.3 L668.0 518.4 L670.0 517.6 L672.0 516.7 L674.0 515.9 L675.0 515.5 L676.0 515.1 L678.0 514.3 L680.0 513.5 L682.0 512.7 L684.0 511.9 L686.0 511.2 L688.0 510.6 L690.0 510.0 L692.0 509.5 L694.0 509.1 L696.0 508.7 L698.0 508.3 L700.0 508.0 L702.0 507.8 L704.0 507.6 L706.0 507.5 L708.0 507.3 L710.0 507.0 L711.8 506.5 L712.0 506.2 L713.9 496.2 L714.0 496.2 L716.0 495.7 L718.0 495.3 L720.0 495.3 L722.0 495.3 L722.6 495.4 L724.0 495.4 L726.0 495.4 L728.0 495.4 L730.0 495.4 L732.0 495.5 L734.0 495.6 L736.0 495.8 L738.0 495.9 L740.0 496.2 L742.0 496.4 L744.0 496.8 L746.0 497.1 L748.0 497.6 L750.0 498.0 L752.0 498.6 L754.0 499.2 L756.0 499.9 L758.0 500.6 L760.0 501.4 L762.0 502.3 L764.0 503.2 L766.0 504.2 L768.0 505.3 L770.0 506.5 L772.0 507.8 L774.0 509.1 L776.0 510.6 L778.0 512.1 L780.0 513.8 L782.0 515.5 L784.0 517.3 L786.0 519.2 L788.0 521.3 L790.0 523.4 L792.0 525.7 L794.0 528.0 L796.0 530.5 L798.0 533.1 L800.0 535.8 L802.0 538.6 L804.0 541.5 L806.0 544.6 L808.0 547.8 L810.0 551.1 L812.0 554.5 L814.0 558.1 L816.0 561.7 L818.0 565.6 L820.0 569.5 L822.0 573.6 L824.0 577.8 L826.0 582.2 L828.0 586.7 L830.0 591.3 L832.0 596.1 L834.0 601.0 L836.0 606.1 L838.0 611.3 L840.0 616.7 L842.0 622.1 L844.0 627.7 L846.0 633.4 L848.0 639.2 L850.0 645.0 L852.0 650.8 L854.0 656.7 L856.0 662.6 L858.0 668.5 L860.0 674.4 L862.0 680.2 L864.0 686.0 L866.0 691.7 L868.0 697.3 L870.0 702.9 L872.0 708.4 L874.0 713.7 L876.0 719.0 L878.0 724.2 L880.0 729.3 L882.0 734.3 L884.0 739.2 L886.0 743.9 L888.0 748.6 L890.0 753.2 L892.0 757.7 L894.0 762.0 L896.0 766.3 L898.0 770.4 L900.0 774.5 L902.0 778.4 L904.0 782.1 L906.0 785.8 L908.0 789.4 L910.0 792.8 L912.0 796.1 L914.0 799.4 L916.0 802.5 L918.0 805.6 L920.0 808.5 L922.0 811.4 L924.0 814.2 L926.0 816.9 L928.0 819.5 L930.0 822.1 L932.0 824.6 L934.0 827.0 L936.0 829.4 L938.0 831.7 L940.0 834.0 L942.0 836.2 L944.0 838.4 L946.0 840.6 L948.0 842.7 L950.0 844.8 L952.0 846.9 L954.0 849.0 L956.0 851.0 L958.0 853.0 L960.0 855.1 L962.0 857.1 L964.0 859.1 L966.0 861.1 L968.0 863.1 L970.0 865.1 L972.0 867.1 L974.0 869.1 L976.0 871.0 L978.0 873.0 L980.0 874.9 L982.0 876.9 L984.0 878.8 L986.0 880.8 L988.0 882.7 L990.0 884.6 L992.0 886.5 L994.0 888.4 L996.0 890.3 L998.0 892.2 L1000.0 894.1 L1002.0 895.9 L1004.0 897.8 L1006.0 899.6 L1008.0 901.5 L1010.0 903.3 L1012.0 905.1 L1014.0 906.9 L1016.0 908.7 L1018.0 910.5 L1020.0 912.3 L1022.0 914.1 L1024.0 915.8 L1026.0 917.6 L1028.0 919.3 L1030.0 921.1 L1032.0 922.8 L1034.0 924.6 L1036.0 926.3 L1038.0 928.0 L1040.0 929.7 L1042.0 931.4 L1044.0 933.1 L1046.0 934.7 L1048.0 936.4 L1050.0 938.1 L1052.0 939.7 L1054.0 941.3 L1056.0 943.0 L1058.0 944.6 L1060.0 946.2 L1062.0 947.8 L1064.0 949.4 L1066.0 951.0 L1068.0 952.6 L1070.0 954.2 L1072.0 955.8 L1074.0 957.3 L1076.0 958.9 L1078.0 960.4 L1080.0 962.0 L1082.0 963.5 L1084.0 965.0 L1086.0 966.5 L1088.0 968.1 L1090.0 969.6 L1092.0 971.1 L1094.0 972.5 L1096.0 974.0 L1098.0 975.5 L1100.0 977.0 L1102.0 978.4 L1104.0 979.9 L1106.0 981.3 L1108.0 982.7 L1110.0 984.2 L1112.0 985.6 L1114.0 987.0 L1116.0 988.4 L1118.0 989.8 L1120.0 991.2 L1122.0 992.6 L1124.0 993.9 L1126.0 995.3 L1128.0 996.7 L1130.0 998.0 L1132.0 999.4 L1134.0 1000.7 L1136.0 1002.0 L1138.0 1003.4 L1140.0 1004.7 L1142.0 1006.0 L1144.0 1007.3 L1146.0 1008.6 L1148.0 1009.9 L1150.0 1011.2 L1152.0 1012.5 L1154.0 1013.7 L1156.0 1015.0 L1158.0 1016.3 L1160.0 1017.5 L1162.0 1018.8 L1164.0 1020.0 L1166.0 1021.2 L1168.0 1022.5 L1170.0 1023.7 L1172.0 1024.9 L1174.0 1026.1 L1176.0 1027.3 L1178.0 1028.5 L1180.0 1029.7 L1182.0 1030.9 L1184.0 1032.0 L1186.0 1033.2 L1188.0 1034.4 L1190.0 1035.5 L1192.0 1036.7 L1194.0 1037.8 L1196.0 1039.0 L1198.0 1040.1 L1200.0 1041.2 L1202.0 1042.3 L1204.0 1043.5 L1206.0 1044.6 L1208.0 1045.7 L1210.0 1046.8 L1212.0 1047.9 L1214.0 1048.9 L1216.0 1050.0 L1218.0 1051.1 L1220.0 1052.2 L1222.0 1053.2 L1224.0 1054.3 L1226.0 1055.3 L1228.0 1056.4 L1230.0 1057.4 L1232.0 1058.5 L1234.0 1059.5 L1236.0 1060.5 L1238.0 1061.5 L1240.0 1062.5 L1242.0 1063.5 L1244.0 1064.5 L1246.0 1065.5 L1248.0 1066.5 L1250.0 1067.5 L1252.0 1068.5 L1254.0 1069.5 L1256.0 1070.4 L1258.0 1071.4 L1260.0 1072.3 L1262.0 1073.3 L1264.0 1074.2 L1266.0 1075.2 L1268.0 1076.1 L1270.0 1077.1 L1272.0 1078.0 L1274.0 1078.9 L1276.0 1079.8 L1278.0 1080.7 L1280.0 1081.7 L1282.0 1082.6 L1284.0 1083.5 L1286.0 1084.3 L1288.0 1085.2 L1290.0 1086.1 L1292.0 1087.0 L1294.0 1087.9 L1296.0 1088.7 L1298.0 1089.6 L1300.0 1090.5 L1302.0 1091.3 L1304.0 1092.2 L1306.0 1093.0 L1308.0 1093.9 L1310.0 1094.7 L1312.0 1095.5 L1314.0 1096.4 L1316.0 1097.2 L1318.0 1098.0 L1320.0 1098.8 L1322.0 1099.6 L1324.0 1100.4 L1326.0 1101.2 L1328.0 1102.0 L1330.0 1102.8 L1332.0 1103.6 L1334.0 1104.4 L1336.0 1105.2 L1338.0 1106.0 L1340.0 1106.8 L1342.0 1107.5 L1344.0 1108.3 L1346.0 1109.1 L1348.0 1109.8 L1350.0 1110.6 L1352.0 1111.3 L1354.0 1112.1 L1356.0 1112.8 L1358.0 1113.5 L1360.0 1114.3 L1362.0 1115.0 L1364.0 1115.7 L1366.0 1116.5 L1368.0 1117.2 L1370.0 1117.9 L1372.0 1118.6 L1374.0 1119.3 L1376.0 1120.0 L1378.0 1120.7 L1380.0 1121.4 L1382.0 1122.1 L1384.0 1122.8 L1386.0 1123.5 L1388.0 1124.2 L1390.0 1124.9 L1392.0 1125.6 L1394.0 1126.2 L1396.0 1126.9 L1398.0 1127.6 L1400.0 1128.2 L1402.0 1128.9 L1404.0 1129.6 L1406.0 1130.2 L1408.0 1130.9 L1410.0 1131.5 L1412.0 1132.2 L1414.0 1132.8 L1416.0 1133.5 L1418.0 1134.1 L1420.0 1134.7 L1422.0 1135.4 L1424.0 1136.0 L1426.0 1136.6 L1428.0 1137.3 L1430.0 1137.9 L1432.0 1138.5 L1434.0 1139.1 L1436.0 1139.7 L1438.0 1140.3 L1440.0 1140.9 L1442.0 1141.5 L1444.0 1142.2 L1446.0 1142.8 L1448.0 1143.4 L1450.0 1143.9 L1452.0 1144.5 L1454.0 1145.1 L1456.0 1145.7 L1458.0 1146.3 L1460.0 1146.9 L1462.0 1147.5 L1464.0 1148.1 L1466.0 1148.6 L1468.0 1149.2 L1470.0 1149.8 L1472.0 1150.3 L1474.0 1150.9 L1476.0 1151.5 L1478.0 1152.0 L1480.0 1152.6 L1482.0 1153.2 L1484.0 1153.7 L1486.0 1154.3 L1488.0 1154.8 L1490.0 1155.4 L1492.0 1155.9 L1494.0 1156.5 L1496.0 1157.0 L1498.0 1157.6 L1500.0 1158.1 L1502.0 1158.6 L1504.0 1159.2 L1506.0 1159.7 L1508.0 1160.2 L1510.0 1160.8 L1512.0 1161.3 L1514.0 1161.8 L1516.0 1162.3 L1518.0 1162.9 L1520.0 1163.4 L1522.0 1163.9 L1524.0 1164.4 L1526.0 1164.9 L1528.0 1165.4 L1530.0 1165.9 L1532.0 1166.4 L1534.0 1166.9 L1536.0 1167.4 L1538.0 1167.9 L1540.0 1168.4 L1542.0 1168.9 L1544.0 1169.4 L1546.0 1169.9 L1548.0 1170.4 L1550.0 1170.9 L1552.0 1171.4 L1554.0 1171.9 L1556.0 1172.3 L1558.0 1172.8 L1560.0 1173.3 L1562.0 1173.8 L1564.0 1174.2 L1566.0 1174.7 L1568.0 1175.2 L1570.0 1175.6 L1572.0 1176.1 L1574.0 1176.6 L1576.0 1177.0 L1578.0 1177.5 L1580.0 1177.9 L1582.0 1178.4 L1584.0 1178.8 L1586.0 1179.3 L1588.0 1179.7 L1590.0 1180.2 L1592.0 1180.6 L1594.0 1181.1 L1596.0 1181.5 L1598.0 1182.0 L1600.0 1182.4 L1602.0 1182.8 L1604.0 1183.3 L1606.0 1183.7 L1608.0 1184.1 L1610.0 1184.6 L1612.0 1185.0 L1614.0 1185.4 L1616.0 1185.8 L1618.0 1186.2 L1620.0 1186.7 L1622.0 1187.1 L1624.0 1187.5 L1626.0 1187.9 L1628.0 1188.3 L1630.0 1188.7 L1632.0 1189.1 L1634.0 1189.5 L1636.0 1189.9 L1638.0 1190.4 L1640.0 1190.8 L1642.0 1191.1 L1644.0 1191.5 L1646.0 1191.9 L1648.0 1192.3 L1650.0 1192.7 L1652.0 1193.1 L1654.0 1193.5 L1656.0 1193.9 L1658.0 1194.3 L1660.0 1194.7 L1662.0 1195.0 L1664.0 1195.4 L1666.0 1195.8 L1668.0 1196.2 L1670.0 1196.5 L1672.0 1196.9 L1674.0 1197.3 L1676.0 1197.7 L1678.0 1198.0 L1680.0 1198.4 L1682.0 1198.8 L1684.0 1199.1 L1686.0 1199.5 L1688.0 1199.8 L1690.0 1200.2 L1692.0 1200.6 L1694.0 1200.9 L1696.0 1201.3 L1698.0 1201.6 L1700.0 1202.0 L1702.0 1202.3 L1704.0 1202.7 L1706.0 1203.0 L1708.0 1203.3 L1710.0 1203.7 L1712.0 1204.0 L1714.0 1204.4 L1716.0 1204.7 L1718.0 1205.0 L1720.0 1205.4 L1722.0 1205.7 L1724.0 1206.0 L1726.0 1206.4 L1728.0 1206.7 L1730.0 1207.0 L1732.0 1207.3 L1734.0 1207.7 L1736.0 1208.0 L1738.0 1208.3 L1740.0 1208.6 L1742.0 1208.9 L1744.0 1209.3 L1746.0 1209.6 L1748.0 1209.9 L1750.0 1210.2 L1752.0 1210.5 L1754.0 1210.8 L1756.0 1211.1 L1758.0 1211.4 L1760.0 1211.7 L1762.0 1212.0 L1764.0 1212.3 L1766.0 1212.6 L1768.0 1212.9 L1770.0 1213.2 L1772.0 1213.5 L1774.0 1213.8 L1776.0 1214.1 L1778.0 1214.4 L1780.0 1214.7 L1782.0 1215.0 L1784.0 1215.3 L1786.0 1215.5 L1788.0 1215.8 L1790.0 1216.1 L1792.0 1216.4 L1794.0 1216.7 L1796.0 1217.0 L1798.0 1217.2 L1800.0 1217.5 L1802.0 1217.8 L1804.0 1218.1 L1806.0 1218.3 L1808.0 1218.6 L1810.0 1218.9 L1812.0 1219.1 L1814.0 1219.4 L1816.0 1219.7 L1818.0 1219.9 L1820.0 1220.2 L1822.0 1220.5 L1824.0 1220.7 L1826.0 1221.0 L1828.0 1221.2 L1830.0 1221.5 L1832.0 1221.7 L1834.0 1222.0 L1836.0 1222.3 L1838.0 1222.5 L1840.0 1222.8 L1842.0 1223.0 L1844.0 1223.3 L1846.0 1223.5 L1848.0 1223.8 L1850.0 1224.0 L1852.0 1224.2 L1854.0 1224.5 L1856.0 1224.7 L1858.0 1225.0 L1860.0 1225.2 L1862.0 1225.4 L1864.0 1225.7 L1866.0 1225.9 L1868.0 1226.1 L1870.0 1226.4 L1872.0 1226.6 L1874.0 1226.8 L1876.0 1227.1 L1878.0 1227.3 L1880.0 1227.5 L1882.0 1227.8 L1884.0 1228.0 L1886.0 1228.2 L1888.0 1228.4 L1890.0 1228.7 L1892.0 1228.9 L1894.0 1229.1 L1896.0 1229.3 L1898.0 1229.5 L1900.0 1229.8 L1902.0 1230.0 L1904.0 1230.2 L1906.0 1230.4" stroke="#00af6e"/>
<path d="M204.0 737.5 L206.0 731.4 L208.0 725.5 L209.1 722.4 L210.0 719.8 L212.0 714.2 L213.0 712.0 L214.0 710.2 L216.0 707.1 L218.0 704.4 L218.1 704.3 L220.0 701.8 L222.0 699.2 L224.0 696.8 L226.0 694.6 L227.2 693.4 L228.0 692.6 L230.0 690.8 L232.0 689.0 L234.0 687.4 L236.0 685.8 L238.0 684.4 L240.0 683.0 L240.8 682.5 L242.0 681.7 L244.0 680.6 L246.0 679.4 L248.0 678.4 L250.0 677.4 L252.0 676.4 L254.0 675.4 L254.4 675.2 L256.0 674.4 L258.0 673.5 L260.0 672.6 L262.0 671.7 L264.0 670.8 L266.0 669.9 L268.0 669.0 L270.0 668.2 L272.0 667.3 L272.5 667.1 L274.0 666.5 L276.0 665.7 L278.0 664.9 L280.0 664.2 L282.0 663.4 L284.0 662.5 L286.0 661.6 L288.0 660.5 L290.0 659.0 L292.0 657.8 L294.0 656.6 L296.0 655.6 L298.0 654.6 L300.0 653.6 L302.0 652.6 L304.0 651.6 L305.0 651.0 L306.0 650.4 L308.0 649.2 L310.0 648.0 L312.0 646.7 L314.0 645.5 L316.0 644.3 L318.0 643.1 L320.0 642.0 L322.0 641.0 L324.0 640.0 L326.0 639.1 L328.0 638.2 L330.0 637.3 L332.0 636.4 L334.0 635.5 L335.0 635.0 L336.0 634.5 L338.0 633.6 L340.0 632.6 L342.0 631.7 L344.0 630.7 L346.0 629.8 L348.0 628.9 L350.0 628.0 L352.0 627.2 L354.0 626.3 L356.0 625.5 L358.0 624.7 L360.0 623.9 L362.0 623.1 L364.0 622.4 L366.0 621.7 L368.0 621.0 L370.0 620.3 L372.0 619.6 L374.0 618.8 L376.0 618.1 L378.0 617.5 L380.0 616.9 L382.0 616.4 L384.0 616.1 L385.0 616.0 L386.0 615.9 L388.0 615.8 L390.0 615.6 L392.0 615.6 L394.0 615.5 L395.0 615.5 L396.0 615.5 L398.0 615.6 L400.0 615.7 L402.0 615.9 L404.0 616.2 L406.0 616.4 L408.0 616.8 L410.0 617.1 L412.0 617.5 L414.0 617.9 L416.0 618.2 L418.0 618.6 L420.0 619.0 L422.0 619.4 L424.0 619.8 L426.0 620.3 L428.0 620.8 L430.0 621.3 L432.0 621.8 L434.0 622.4 L436.0 623.0 L438.0 623.6 L440.0 624.1 L442.0 624.7 L444.0 625.3 L446.0 625.9 L448.0 626.5 L450.0 627.0 L452.0 627.5 L454.0 628.1 L456.0 628.7 L458.0 629.3 L460.0 629.8 L462.0 630.4 L464.0 631.0 L466.0 631.6 L468.0 632.1 L470.0 632.7 L472.0 633.2 L474.0 633.7 L476.0 634.2 L478.0 634.6 L480.0 635.0 L482.0 635.4 L484.0 635.8 L486.0 636.2 L488.0 636.6 L490.0 637.0 L492.0 637.3 L494.0 637.6 L496.0 637.8 L498.0 637.9 L500.0 638.0 L502.0 638.0 L504.0 637.9 L506.0 637.8 L508.0 637.6 L510.0 637.5 L512.0 637.3 L514.0 637.1 L515.0 637.0 L516.0 636.9 L518.0 636.6 L520.0 636.3 L522.0 636.0 L524.0 635.5 L526.0 635.1 L528.0 634.6 L530.0 634.0 L532.0 633.1 L534.0 631.9 L536.0 630.6 L538.0 629.6 L539.8 629.3 L540.0 629.3 L542.0 631.6 L544.0 634.8 L545.3 635.7 L546.0 635.7 L548.0 635.5 L550.0 635.1 L552.0 634.5 L554.0 633.8 L556.0 633.1 L558.0 632.2 L560.0 631.4 L562.0 630.5 L564.0 629.7 L565.2 629.3 L566.0 629.0 L568.0 628.3 L570.0 627.6 L572.0 626.9 L574.0 626.2 L576.0 625.5 L578.0 624.7 L580.0 624.0 L582.0 623.2 L584.0 622.5 L586.0 621.7 L588.0 620.9 L590.0 620.0 L592.0 619.2 L594.0 618.3 L596.0 617.4 L597.8 616.6 L598.0 616.5 L600.0 615.6 L602.0 614.6 L604.0 613.6 L606.0 612.5 L608.0 611.5 L610.0 610.4 L612.0 609.3 L614.0 608.1 L616.0 606.9 L618.0 605.7 L620.0 604.5 L622.0 603.2 L624.0 601.9 L625.0 601.2 L626.0 600.5 L628.0 599.0 L630.0 597.4 L632.0 595.6 L634.0 593.9 L636.0 592.1 L638.0 590.5 L640.0 588.9 L642.0 587.5 L643.2 586.7 L644.0 586.2 L646.0 585.1 L648.0 584.0 L650.0 583.0 L652.0 582.0 L654.0 581.1 L656.0 580.2 L658.0 579.3 L660.0 578.4 L662.0 577.6 L664.0 576.7 L666.0 575.9 L668.0 575.0 L670.0 574.2 L670.4 574.0 L672.0 573.3 L674.0 572.5 L676.0 571.7 L678.0 570.9 L680.0 570.1 L682.0 569.3 L684.0 568.5 L686.0 567.7 L688.0 566.8 L690.0 565.8 L692.0 564.6 L694.0 563.2 L696.0 561.7 L698.0 560.4 L700.0 559.5 L700.9 559.3 L702.0 559.1 L704.0 559.0 L706.0 558.9 L708.0 558.8 L710.0 558.6 L711.8 558.2 L712.0 557.9 L713.9 547.3 L714.0 547.3 L716.0 546.9 L718.0 546.7 L720.0 546.6 L722.0 546.8 L724.0 547.2 L726.0 547.3 L728.0 547.4 L730.0 547.5 L732.0 547.6 L734.0 547.7 L736.0 547.9 L738.0 548.0 L740.0 548.1 L742.0 548.3 L744.0 548.5 L746.0 548.7 L748.0 549.0 L750.0 549.3 L752.0 549.6 L754.0 550.0 L756.0 550.5 L758.0 551.0 L760.0 551.6 L762.0 552.2 L764.0 552.9 L766.0 553.7 L768.0 554.6 L770.0 555.5 L772.0 556.6 L774.0 557.7 L776.0 558.9 L778.0 560.3 L780.0 561.7 L782.0 563.3 L784.0 564.9 L786.0 566.7 L788.0 568.7 L790.0 570.7 L792.0 572.9 L794.0 575.2 L796.0 577.7 L798.0 580.3 L800.0 583.1 L802.0 586.0 L804.0 589.1 L806.0 592.4 L808.0 595.8 L810.0 599.5 L812.0 603.3 L814.0 607.4 L816.0 611.6 L818.0 616.1 L820.0 620.8 L822.0 625.8 L824.0 631.0 L826.0 636.4 L828.0 642.1 L830.0 648.0 L832.0 654.3 L834.0 660.7 L836.0 667.4 L838.0 674.4 L840.0 681.6 L842.0 689.0 L844.0 696.7 L846.0 704.6 L848.0 712.7 L850.0 721.0 L852.0 729.5 L854.0 738.2 L856.0 747.1 L858.0 756.1 L860.0 765.3 L862.0 774.6 L864.0 784.0 L866.0 793.4 L868.0 802.9 L870.0 812.5 L872.0 822.1 L874.0 831.7 L876.0 841.2 L878.0 850.8 L880.0 860.3 L882.0 869.7 L884.0 879.1 L886.0 888.3 L888.0 897.5 L890.0 906.5 L892.0 915.3 L894.0 924.0 L896.0 932.5 L898.0 940.8 L900.0 948.9 L902.0 956.9 L904.0 964.6 L906.0 972.0 L908.0 979.3 L910.0 986.3 L912.0 993.1 L914.0 999.5 L916.0 1005.8 L918.0 1011.7 L920.0 1017.4 L922.0 1022.8 L924.0 1027.9 L926.0 1032.9 L928.0 1037.6 L930.0 1042.1 L932.0 1046.3 L934.0 1050.4 L936.0 1054.3 L938.0 1058.0 L940.0 1061.6 L942.0 1064.9 L944.0 1068.2 L946.0 1071.3 L948.0 1074.2 L950.0 1077.1 L952.0 1079.8 L954.0 1082.5 L956.0 1085.0 L958.0 1087.5 L960.0 1089.9 L962.0 1092.2 L964.0 1094.4 L966.0 1096.5 L968.0 1098.6 L970.0 1100.6 L972.0 1102.5 L974.0 1104.4 L976.0 1106.2 L978.0 1107.9 L980.0 1109.6 L982.0 1111.2 L984.0 1112.8 L986.0 1114.4 L988.0 1115.9 L990.0 1117.3 L992.0 1118.7 L994.0 1120.1 L996.0 1121.4 L998.0 1122.7 L1000.0 1124.0 L1002.0 1125.2 L1004.0 1126.5 L1006.0 1127.7 L1008.0 1128.9 L1010.0 1130.1 L1012.0 1131.2 L1014.0 1132.4 L1016.0 1133.5 L1018.0 1134.7 L1020.0 1135.8 L1022.0 1136.9 L1024.0 1138.0 L1026.0 1139.1 L1028.0 1140.2 L1030.0 1141.2 L1032.0 1142.3 L1034.0 1143.3 L1036.0 1144.4 L1038.0 1145.4 L1040.0 1146.4 L1042.0 1147.4 L1044.0 1148.4 L1046.0 1149.4 L1048.0 1150.4 L1050.0 1151.4 L1052.0 1152.4 L1054.0 1153.3 L1056.0 1154.3 L1058.0 1155.2 L1060.0 1156.2 L1062.0 1157.1 L1064.0 1158.0 L1066.0 1158.9 L1068.0 1159.8 L1070.0 1160.7 L1072.0 1161.6 L1074.0 1162.5 L1076.0 1163.4 L1078.0 1164.2 L1080.0 1165.1 L1082.0 1166.0 L1084.0 1166.8 L1086.0 1167.6 L1088.0 1168.5 L1090.0 1169.3 L1092.0 1170.1 L1094.0 1170.9 L1096.0 1171.8 L1098.0 1172.6 L1100.0 1173.4 L1102.0 1174.2 L1104.0 1175.0 L1106.0 1175.7 L1108.0 1176.5 L1110.0 1177.3 L1112.0 1178.1 L1114.0 1178.8 L1116.0 1179.6 L1118.0 1180.4 L1120.0 1181.1 L1122.0 1181.9 L1124.0 1182.6 L1126.0 1183.4 L1128.0 1184.1 L1130.0 1184.8 L1132.0 1185.5 L1134.0 1186.3 L1136.0 1187.0 L1138.0 1187.7 L1140.0 1188.4 L1142.0 1189.1 L1144.0 1189.8 L1146.0 1190.5 L1148.0 1191.2 L1150.0 1191.9 L1152.0 1192.6 L1154.0 1193.2 L1156.0 1193.9 L1158.0 1194.6 L1160.0 1195.3 L1162.0 1195.9 L1164.0 1196.6 L1166.0 1197.2 L1168.0 1197.9 L1170.0 1198.5 L1172.0 1199.2 L1174.0 1199.8 L1176.0 1200.5 L1178.0 1201.1 L1180.0 1201.7 L1182.0 1202.3 L1184.0 1202.9 L1186.0 1203.6 L1188.0 1204.2 L1190.0 1204.8 L1192.0 1205.4 L1194.0 1206.0 L1196.0 1206.6 L1198.0 1207.2 L1200.0 1207.8 L1202.0 1208.4 L1204.0 1208.9 L1206.0 1209.5 L1208.0 1210.1 L1210.0 1210.7 L1212.0 1211.2 L1214.0 1211.8 L1216.0 1212.3 L1218.0 1212.9 L1220.0 1213.5 L1222.0 1214.0 L1224.0 1214.6 L1226.0 1215.1 L1228.0 1215.6 L1230.0 1216.2 L1232.0 1216.7 L1234.0 1217.2 L1236.0 1217.8 L1238.0 1218.3 L1240.0 1218.8 L1242.0 1219.3 L1244.0 1219.8 L1246.0 1220.3 L1248.0 1220.9 L1250.0 1221.4 L1252.0 1221.9 L1254.0 1222.4 L1256.0 1222.9 L1258.0 1223.3 L1260.0 1223.8 L1262.0 1224.3 L1264.0 1224.8 L1266.0 1225.3 L1268.0 1225.8 L1270.0 1226.2 L1272.0 1226.7 L1274.0 1227.2 L1276.0 1227.6 L1278.0 1228.1 L1280.0 1228.6 L1282.0 1229.0 L1284.0 1229.5 L1286.0 1229.9 L1288.0 1230.4 L1290.0 1230.8 L1292.0 1231.3 L1294.0 1231.7 L1296.0 1232.2 L1298.0 1232.6 L1300.0 1233.0 L1302.0 1233.5 L1304.0 1233.9 L1306.0 1234.3 L1308.0 1234.7 L1310.0 1235.2 L1312.0 1235.6 L1314.0 1236.0 L1316.0 1236.4 L1318.0 1236.8 L1320.0 1237.2 L1322.0 1237.6 L1324.0 1238.0 L1326.0 1238.4 L1328.0 1238.9 L1330.0 1239.2 L1332.0 1239.6 L1334.0 1240.0 L1336.0 1240.4 L1338.0 1240.8 L1340.0 1241.2 L1342.0 1241.6 L1344.0 1242.0 L1346.0 1242.4 L1348.0 1242.7 L1350.0 1243.1 L1352.0 1243.5 L1354.0 1243.9 L1356.0 1244.2 L1358.0 1244.6 L1360.0 1245.0 L1362.0 1245.3 L1364.0 1245.7 L1366.0 1246.1 L1368.0 1246.4 L1370.0 1246.8 L1372.0 1247.2 L1374.0 1247.5 L1376.0 1247.9 L1378.0 1248.2 L1380.0 1248.6 L1382.0 1248.9 L1384.0 1249.3 L1386.0 1249.6 L1388.0 1250.0 L1390.0 1250.3 L1392.0 1250.6 L1394.0 1251.0 L1396.0 1251.3 L1398.0 1251.7 L1400.0 1252.0 L1402.0 1252.3 L1404.0 1252.7 L1406.0 1253.0 L1408.0 1253.3 L1410.0 1253.6 L1412.0 1254.0 L1414.0 1254.3 L1416.0 1254.6 L1418.0 1254.9 L1420.0 1255.3 L1422.0 1255.6 L1424.0 1255.9 L1426.0 1256.2 L1428.0 1256.5 L1430.0 1256.8 L1432.0 1257.1 L1434.0 1257.5 L1436.0 1257.8 L1438.0 1258.1 L1440.0 1258.4 L1442.0 1258.7 L1444.0 1259.0 L1446.0 1259.3 L1448.0 1259.6 L1450.0 1259.9 L1452.0 1260.2 L1454.0 1260.5 L1456.0 1260.8 L1458.0 1261.1 L1460.0 1261.3 L1462.0 1261.6 L1464.0 1261.9 L1466.0 1262.2 L1468.0 1262.5 L1470.0 1262.8 L1472.0 1263.1 L1474.0 1263.3 L1476.0 1263.6 L1478.0 1263.9 L1480.0 1264.2 L1482.0 1264.4 L1484.0 1264.7 L1486.0 1265.0 L1488.0 1265.3 L1490.0 1265.5 L1492.0 1265.8 L1494.0 1266.1 L1496.0 1266.3 L1498.0 1266.6 L1500.0 1266.9 L1502.0 1267.1 L1504.0 1267.4 L1506.0 1267.6 L1508.0 1267.9 L1510.0 1268.2 L1512.0 1268.4 L1514.0 1268.7 L1516.0 1268.9 L1518.0 1269.2 L1520.0 1269.4 L1522.0 1269.7 L1524.0 1269.9 L1526.0 1270.2 L1528.0 1270.4 L1530.0 1270.7 L1532.0 1270.9 L1534.0 1271.1 L1536.0 1271.4 L1538.0 1271.6 L1540.0 1271.8 L1542.0 1272.1 L1544.0 1272.3 L1546.0 1272.6 L1548.0 1272.8 L1550.0 1273.0 L1552.0 1273.2 L1554.0 1273.5 L1556.0 1273.7 L1558.0 1273.9 L1560.0 1274.2 L1562.0 1274.4 L1564.0 1274.6 L1566.0 1274.8 L1568.0 1275.0 L1570.0 1275.3 L1572.0 1275.5 L1574.0 1275.7 L1576.0 1275.9 L1578.0 1276.1 L1580.0 1276.3 L1582.0 1276.6 L1584.0 1276.8 L1586.0 1277.0 L1588.0 1277.2 L1590.0 1277.4 L1592.0 1277.6 L1594.0 1277.8 L1596.0 1278.0 L1598.0 1278.2 L1600.0 1278.4 L1602.0 1278.6 L1604.0 1278.8 L1606.0 1279.0 L1608.0 1279.2 L1610.0 1279.4 L1612.0 1279.6 L1614.0 1279.8 L1616.0 1280.0 L1618.0 1280.2 L1620.0 1280.4 L1622.0 1280.6 L1624.0 1280.8 L1626.0 1280.9 L1628.0 1281.1 L1630.0 1281.3 L1632.0 1281.5 L1634.0 1281.7 L1636.0 1281.9 L1638.0 1282.1 L1640.0 1282.2 L1642.0 1282.4 L1644.0 1282.6 L1646.0 1282.8 L1648.0 1282.9 L1650.0 1283.1 L1652.0 1283.3 L1654.0 1283.5 L1656.0 1283.6 L1658.0 1283.8 L1660.0 1284.0 L1662.0 1284.2 L1664.0 1284.3 L1666.0 1284.5 L1668.0 1284.7 L1670.0 1284.8 L1672.0 1285.0 L1674.0 1285.2 L1676.0 1285.3 L1678.0 1285.5 L1680.0 1285.7 L1682.0 1285.8 L1684.0 1286.0 L1686.0 1286.1 L1688.0 1286.3 L1690.0 1286.5 L1692.0 1286.6 L1694.0 1286.8 L1696.0 1286.9 L1698.0 1287.1 L1700.0 1287.2 L1702.0 1287.4 L1704.0 1287.5 L1706.0 1287.7 L1708.0 1287.8 L1710.0 1288.0 L1712.0 1288.1 L1714.0 1288.3 L1716.0 1288.4 L1718.0 1288.6 L1720.0 1288.7 L1722.0 1288.9 L1724.0 1289.0 L1726.0 1289.1 L1728.0 1289.3 L1730.0 1289.4 L1732.0 1289.6 L1734.0 1289.7 L1736.0 1289.8 L1738.0 1290.0 L1740.0 1290.1 L1742.0 1290.3 L1744.0 1290.4 L1746.0 1290.5 L1748.0 1290.7 L1750.0 1290.8 L1752.0 1290.9 L1754.0 1291.1 L1756.0 1291.2 L1758.0 1291.3 L1760.0 1291.4 L1762.0 1291.6 L1764.0 1291.7 L1766.0 1291.8 L1768.0 1292.0 L1770.0 1292.1 L1772.0 1292.2 L1774.0 1292.3 L1776.0 1292.5 L1778.0 1292.6 L1780.0 1292.7 L1782.0 1292.8 L1784.0 1292.9 L1786.0 1293.1 L1788.0 1293.2 L1790.0 1293.3 L1792.0 1293.4 L1794.0 1293.5 L1796.0 1293.7 L1798.0 1293.8 L1800.0 1293.9 L1802.0 1294.0 L1804.0 1294.1 L1806.0 1294.2 L1808.0 1294.3 L1810.0 1294.5 L1812.0 1294.6 L1814.0 1294.7 L1816.0 1294.8 L1818.0 1294.9 L1820.0 1295.0 L1822.0 1295.1 L1824.0 1295.2 L1826.0 1295.3 L1828.0 1295.4 L1830.0 1295.5 L1832.0 1295.7 L1834.0 1295.8 L1836.0 1295.9 L1838.0 1296.0 L1840.0 1296.1 L1842.0 1296.2 L1844.0 1296.3 L1846.0 1296.4 L1848.0 1296.5 L1850.0 1296.6 L1852.0 1296.7 L1854.0 1296.8 L1856.0 1296.9 L1858.0 1297.0 L1860.0 1297.1 L1862.0 1297.2 L1864.0 1297.3 L1866.0 1297.4 L1868.0 1297.5 L1870.0 1297.6 L1872.0 1297.7 L1874.0 1297.8 L1876.0 1297.9 L1878.0 1298.0 L1880.0 1298.0 L1882.0 1298.1 L1884.0 1298.2 L1886.0 1298.3 L1888.0 1298.4 L1890.0 1298.5 L1892.0 1298.6 L1894.0 1298.7 L1896.0 1298.8 L1898.0 1298.9 L1900.0 1299.0 L1902.0 1299.1 L1904.0 1299.1 L1906.0 1299.2" stroke="#ff3c3c"/>
</g>
<g stroke="#000" stroke-width="6"><line x1="345.5" y1="1402" x2="345.5" y2="1391" /><line x1="487.5" y1="1402" x2="487.5" y2="1378" /><line x1="629.5" y1="1402" x2="629.5" y2="1391" /><line x1="771.5" y1="1402" x2="771.5" y2="1378" /><line x1="913.5" y1="1402" x2="913.5" y2="1391" /><line x1="1055.5" y1="1402" x2="1055.5" y2="1378" /><line x1="1197.5" y1="1402" x2="1197.5" y2="1391" /><line x1="1339.5" y1="1402" x2="1339.5" y2="1378" /><line x1="1481.5" y1="1402" x2="1481.5" y2="1391" /><line x1="1623.5" y1="1402" x2="1623.5" y2="1378" /><line x1="1765.5" y1="1402" x2="1765.5" y2="1391" /></g>
<g shape-rendering="crispEdges">
<rect x="200" y="28" width="1711" height="3" fill="#666"/>
<rect x="200" y="31" width="1711" height="2" fill="#000"/>
<rect x="205" y="33" width="1701" height="3" fill="#919191"/>
<rect x="200" y="28" width="5" height="1381" fill="#000"/>
<rect x="205" y="33" width="3" height="1369" fill="#606060"/>
<rect x="1906" y="28" width="5" height="1381" fill="#000"/>
<rect x="1904" y="33" width="2" height="1369" fill="#444"/>
<rect x="200" y="1402" width="1711" height="7" fill="#000"/>
</g>
<g class="tl"><text x="203.5" y="1496" text-anchor="middle">200</text><text x="487.5" y="1496" text-anchor="middle">300</text><text x="771.5" y="1496" text-anchor="middle">400</text><text x="1055.5" y="1496" text-anchor="middle">500</text><text x="1339.5" y="1496" text-anchor="middle">600</text><text x="1623.5" y="1496" text-anchor="middle">700</text><text x="1907.5" y="1496" text-anchor="middle">800</text></g>
<text class="ax" x="1055" y="1612" text-anchor="middle">Wavelength (nm)</text>
<text class="ax" style="font-size:117px" transform="translate(107.5,719.2) rotate(-90)" x="0" y="0" text-anchor="middle">Absorbance (a.u.)</text>
<g><line x1="866" y1="101" x2="1062" y2="101" stroke="#0068e0" stroke-width="7"/><text x="1078.5" y="129.5" class="lg">Cu -MOR/g-C<tspan class="sub" dy="9">3</tspan><tspan dy="-9">N</tspan><tspan class="sub" dy="9">4</tspan><tspan dy="-9">-IE</tspan></text><line x1="866" y1="209.5" x2="1062" y2="209.5" stroke="#00af6e" stroke-width="7"/><text x="1078.5" y="238" class="lg">Cu -MOR/g-C<tspan class="sub" dy="9">3</tspan><tspan dy="-9">N</tspan><tspan class="sub" dy="9">4</tspan><tspan dy="-9">-IM</tspan></text><line x1="866" y1="318" x2="1062" y2="318" stroke="#505050" stroke-width="7"/><text x="1078.5" y="347" class="lg">Cu -MOR/g-C<tspan class="sub" dy="9">3</tspan><tspan dy="-9">N</tspan><tspan class="sub" dy="9">4</tspan><tspan dy="-9">-GR</tspan></text><line x1="866" y1="427" x2="1062" y2="427" stroke="#ff3c3c" stroke-width="7"/><text x="1078.5" y="455.5" class="lg">Cu -MOR/g-C<tspan class="sub" dy="9">3</tspan><tspan dy="-9">N</tspan><tspan class="sub" dy="9">4</tspan><tspan dy="-9">-HT</tspan></text></g>
</svg>
</body></html>
